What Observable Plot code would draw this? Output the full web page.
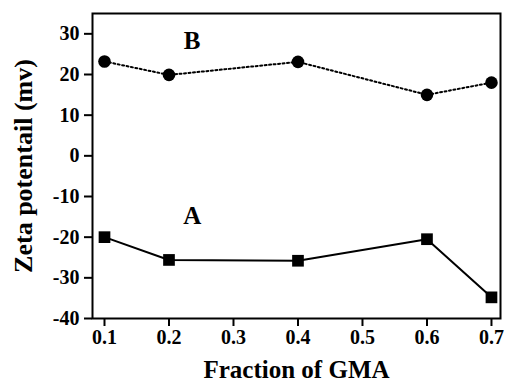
<!DOCTYPE html>
<html>
<head>
<meta charset="utf-8">
<script src="https://cdn.jsdelivr.net/npm/d3@7"></script>
<script src="https://cdn.jsdelivr.net/npm/@observablehq/plot@0.6"></script>
<style>
  html, body { margin: 0; padding: 0; background: #fff; }
</style>
</head>
<body>
<div id="chart"></div>
<script>
const fraction = [0.1, 0.2, 0.4, 0.6, 0.7];
const seriesA = [-20, -25.6, -25.8, -20.5, -34.8];
const seriesB = [23.2, 19.9, 23.1, 15.0, 18.0];
const xTicks = [0.1, 0.2, 0.3, 0.4, 0.5, 0.6, 0.7];
const yTicks = [-40, -30, -20, -10, 0, 10, 20, 30];
const seriesLabels = [
  {name: "A", x: 0.236, y: -14.7},
  {name: "B", x: 0.236, y: 28.3}
];
const xTitle = "Fraction of GMA";
const yTitle = "Zeta potentail (mv)";

const dataA = fraction.map((f, i) => ({x: f, y: seriesA[i]}));
const dataB = fraction.map((f, i) => ({x: f, y: seriesB[i]}));

const chart = Plot.plot({
  width: 505,
  height: 381,
  marginLeft: 92,
  marginRight: 5,
  marginTop: 13,
  marginBottom: 63,
  style: {fontFamily: "'Liberation Serif', 'Times New Roman', serif", fontWeight: "bold", color: "#000", background: "#fff"},
  x: {domain: [0.0814, 0.714]},
  y: {domain: [-40, 35]},
  marks: [
    Plot.axisX({ticks: xTicks, tickFormat: d => d.toFixed(1), tickSize: 8, tickPadding: 3, fontSize: 20, strokeWidth: 2, label: null}),
    Plot.axisY({ticks: yTicks, tickFormat: d => String(d), tickSize: 8, tickPadding: 5, fontSize: 20, strokeWidth: 2, label: null}),
    Plot.frame({stroke: "#000", strokeWidth: 2}),
    Plot.line(dataB, {x: "x", y: "y", stroke: "#000", strokeWidth: 2, strokeDasharray: "2,2.5"}),
    Plot.line(dataA, {x: "x", y: "y", stroke: "#000", strokeWidth: 2}),
    Plot.dot(dataB, {x: "x", y: "y", r: 6.3, fill: "#000", symbol: "circle"}),
    Plot.dot(dataA, {x: "x", y: "y", r: 6.6, fill: "#000", symbol: "square"}),
    Plot.text(seriesLabels, {x: "x", y: "y", text: "name", fontSize: 25, fontWeight: "bold", fill: "#000"}),
    Plot.text([yTitle], {frameAnchor: "left", textAnchor: "middle", lineAnchor: "middle", dx: -69, rotate: -90, fontSize: 26, fontWeight: "bold", fill: "#000"}),
    Plot.text([xTitle], {frameAnchor: "bottom", textAnchor: "middle", lineAnchor: "middle", dy: 51, fontSize: 25, fontWeight: "bold", fill: "#000"})
  ]
});
document.getElementById("chart").appendChild(chart);
</script>
</body>
</html>
